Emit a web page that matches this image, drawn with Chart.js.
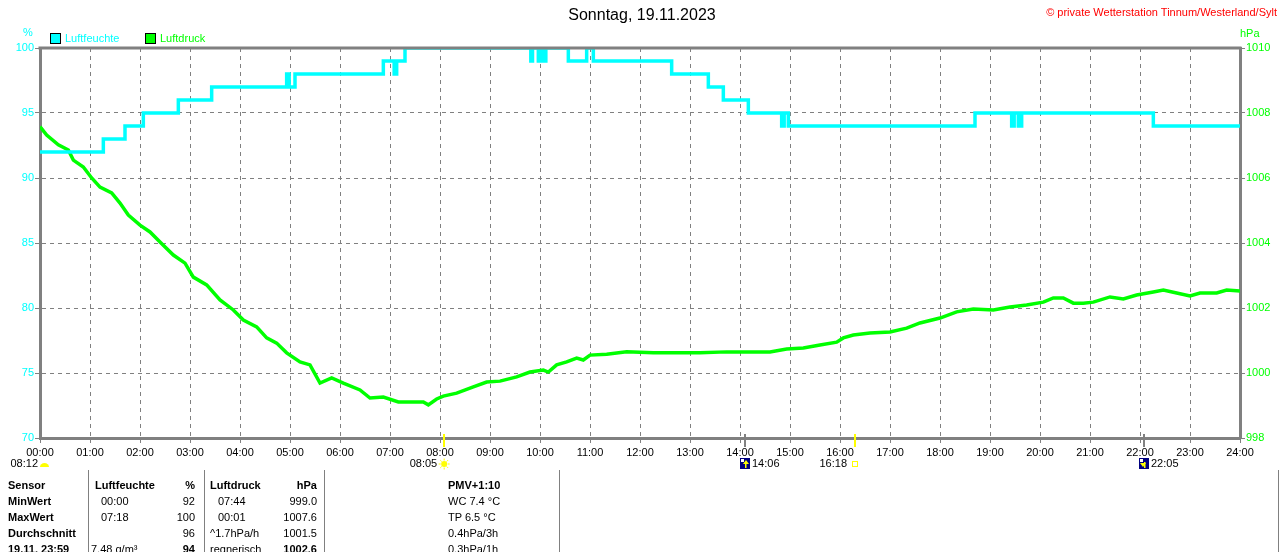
<!DOCTYPE html>
<html><head><meta charset="utf-8">
<script src="https://cdn.jsdelivr.net/npm/chart.js@4.4.0/dist/chart.umd.min.js"></script>
<style>
body{margin:0;background:#fff;width:1280px;height:552px;overflow:hidden;position:relative;font-family:"Liberation Sans",Arial,sans-serif;font-size:11px;color:#000;}
#wrap{position:absolute;left:0;top:0;width:1280px;height:552px;}
.t{position:absolute;white-space:nowrap;line-height:13px;height:13px;}
.r{text-align:right;}
.b{font-weight:bold;}
.sep{position:absolute;width:1px;background:#808080;top:470px;height:82px;}
.box{position:absolute;width:9px;height:9px;border:1px solid #000;}
</style></head><body>
<div id="wrap"><canvas id="c" width="1280" height="552"></canvas></div>
<script>
// ---- data ----
const xTickLabels = ['00:00','01:00','02:00','03:00','04:00','05:00','06:00','07:00','08:00','09:00','10:00','11:00','12:00','13:00','14:00','15:00','16:00','17:00','18:00','19:00','20:00','21:00','22:00','23:00','24:00'];
const humTicks = [70,75,80,85,90,95,100];
const pressTicks = [998,1000,1002,1004,1006,1008,1010];

// minutes after midnight
const humTimes = [0,76,102,124,166,206,296,299,306,412,425,428,438,589,591,598,600,604,607,634,656,664,758,802,820,850,890,893,898,1122,1166,1169,1174,1178,1336,1440];
const humValues = [92,93,94,95,96,97,98,97,98,99,98,99,100,99,100,99,100,99,100,99,100,99,98,97,96,95,94,95,94,95,94,95,94,95,94,94];

const pressTimes = [0,8,22,34,40,52,62,72,86,96,106,120,132,144,160,174,184,200,216,232,244,260,272,284,296,312,324,336,350,364,384,396,412,430,460,466,476,484,500,520,536,552,572,588,604,610,620,632,644,652,660,680,704,736,768,792,824,856,876,896,916,936,956,964,976,996,1020,1040,1056,1080,1100,1120,1144,1164,1184,1204,1216,1228,1240,1252,1264,1284,1300,1316,1336,1348,1364,1380,1392,1412,1424,1440];
const pressValues = [1007.58,1007.32,1007.02,1006.86,1006.55,1006.34,1006.0,1005.72,1005.54,1005.23,1004.86,1004.55,1004.34,1004.03,1003.63,1003.38,1002.95,1002.71,1002.25,1001.94,1001.63,1001.42,1001.08,1000.92,1000.62,1000.34,1000.25,999.69,999.85,999.69,999.48,999.23,999.26,999.11,999.11,999.02,999.2,999.29,999.38,999.57,999.72,999.75,999.88,1000.03,1000.09,1000.03,1000.25,1000.34,1000.46,1000.40,1000.55,1000.58,1000.65,1000.62,1000.62,1000.62,1000.65,1000.65,1000.65,1000.74,1000.77,1000.86,1000.95,1001.08,1001.17,1001.23,1001.26,1001.38,1001.54,1001.69,1001.88,1001.97,1001.94,1002.03,1002.09,1002.18,1002.31,1002.31,1002.15,1002.15,1002.18,1002.34,1002.28,1002.40,1002.49,1002.55,1002.46,1002.37,1002.46,1002.46,1002.55,1002.52];

const sunTimes = [485, 978];          // sunrise, sunset
const sunLabels = ['08:05', '16:18'];
const moonTimes = [846, 1325];        // moonrise, moonset
const moonLabels = ['14:06', '22:05'];
const dayLengthLabel = '08:12';

const seriesNames = ['Luftfeuchte', 'Luftdruck'];
const seriesColors = ['#00FFFF', '#00FF00'];

// ---- html texts ----
function addText(txt, x, yc, opts) {
  opts = opts || {};
  const d = document.createElement('div');
  d.className = 't' + (opts.b ? ' b' : '');
  d.textContent = txt;
  d.style.top = (yc - 6.5) + 'px';
  if (opts.right) { d.style.right = (1280 - x) + 'px'; d.style.textAlign = 'right'; }
  else if (opts.center) { d.style.left = (x - 200) + 'px'; d.style.width = '400px'; d.style.textAlign = 'center'; }
  else d.style.left = x + 'px';
  if (opts.color) d.style.color = opts.color;
  if (opts.size) { d.style.fontSize = opts.size + 'px'; d.style.lineHeight = (opts.size + 2) + 'px'; d.style.height = (opts.size + 2) + 'px'; d.style.top = (yc - (opts.size + 2) / 2) + 'px'; }
  document.body.appendChild(d);
}
addText('Sonntag, 19.11.2023', 642, 15, {center: true, size: 16});
addText('© private Wetterstation Tinnum/Westerland/Sylt', 1277, 12, {right: true, color: '#FF0000'});
addText('%', 23, 32, {color: seriesColors[0]});
addText('hPa', 1240, 33, {color: seriesColors[1]});
// legend
[[50, 65], [145, 160]].forEach((p, i) => {
  const b = document.createElement('div');
  b.className = 'box'; b.style.left = p[0] + 'px'; b.style.top = '33px'; b.style.background = seriesColors[i];
  document.body.appendChild(b);
  addText(seriesNames[i], p[1], 38, {color: seriesColors[i]});
});
// table
const rows = [485, 501, 517, 533, 549];
const colA = ['Sensor', 'MinWert', 'MaxWert', 'Durchschnitt', '19.11.  23:59'];
const colB = ['Luftfeuchte', '00:00', '07:18', '', '7.48 g/m³'];
const colC = ['%', '92', '100', '96', '94'];
const colD = ['Luftdruck', '07:44', '00:01', '^1.7hPa/h', 'regnerisch'];
const colE = ['hPa', '999.0', '1007.6', '1001.5', '1002.6'];
const colF = ['PMV+1:10', 'WC 7.4 °C', 'TP 6.5 °C', '0.4hPa/3h', '0.3hPa/1h'];
rows.forEach((y, i) => {
  addText(colA[i], 8, y, {b: true});
  addText(colB[i], i === 0 ? 95 : (i === 4 ? 91 : 101), y, {b: i === 0});
  addText(colC[i], 195, y, {right: true, b: i === 0 || i === 4});
  addText(colD[i], i === 0 ? 210 : (i === 1 || i === 2 ? 218 : 210), y, {b: i === 0});
  addText(colE[i], 317, y, {right: true, b: i === 0 || i === 4});
  addText(colF[i], 448, y, {b: i === 0});
});
[88, 204, 324, 559, 1278].forEach(x => {
  const s = document.createElement('div'); s.className = 'sep'; s.style.left = x + 'px'; document.body.appendChild(s);
});

// ---- chart ----
const extras = {
  id: 'extras',
  afterDraw(chart) {
    const ctx = chart.ctx, a = chart.chartArea, xs = chart.scales.x;
    ctx.save();
    // top frame line
    ctx.strokeStyle = '#808080'; ctx.lineWidth = 3;
    ctx.beginPath(); ctx.moveTo(a.left - 1.5, a.top); ctx.lineTo(a.right + 1.5, a.top); ctx.stroke();
    // sun / moon marks on the time axis
    ctx.lineWidth = 2;
    sunTimes.forEach(t => {
      const x = Math.round(xs.getPixelForValue(t));
      ctx.strokeStyle = '#FFFF00';
      ctx.beginPath(); ctx.moveTo(x, a.bottom - 4); ctx.lineTo(x, a.bottom + 9); ctx.stroke();
    });
    moonTimes.forEach(t => {
      const x = Math.round(xs.getPixelForValue(t));
      ctx.strokeStyle = '#808080';
      ctx.beginPath(); ctx.moveTo(x, a.bottom - 4); ctx.lineTo(x, a.bottom + 9); ctx.stroke();
    });
    ctx.font = '11px "Liberation Sans", Arial, sans-serif';
    ctx.fillStyle = '#000'; ctx.textBaseline = 'middle';
    const yRow = 464;
    // day length
    const x0 = xs.getPixelForValue(0);
    ctx.textAlign = 'right'; ctx.fillText(dayLengthLabel, x0 - 2, yRow);
    ctx.fillStyle = '#FFFF00';
    ctx.beginPath(); ctx.ellipse(x0 + 4.5, yRow + 3, 4.5, 4, 0, Math.PI, 2 * Math.PI); ctx.fill();
    // sunrise
    let xs1 = xs.getPixelForValue(sunTimes[0]);
    ctx.fillStyle = '#000'; ctx.textAlign = 'right'; ctx.fillText(sunLabels[0], xs1 - 7, yRow);
    ctx.fillStyle = '#FFFF00'; ctx.strokeStyle = '#FFFF00'; ctx.lineWidth = 1;
    ctx.beginPath(); ctx.arc(xs1, yRow, 3, 0, 2 * Math.PI); ctx.fill();
    for (let k = 0; k < 8; k++) {
      const an = k * Math.PI / 4;
      ctx.beginPath(); ctx.moveTo(xs1 + Math.cos(an) * 3.5, yRow + Math.sin(an) * 3.5);
      ctx.lineTo(xs1 + Math.cos(an) * 5.5, yRow + Math.sin(an) * 5.5); ctx.stroke();
    }
    // sunset
    let xs2 = xs.getPixelForValue(sunTimes[1]);
    ctx.fillStyle = '#000'; ctx.textAlign = 'right'; ctx.fillText(sunLabels[1], xs2 - 8, yRow);
    ctx.strokeStyle = '#FFFF00'; ctx.strokeRect(xs2 - 2.5, yRow - 2.5, 5, 5);
    // moon rise / set
    moonTimes.forEach((t, i) => {
      const x = Math.round(xs.getPixelForValue(t));
      ctx.fillStyle = '#000080'; ctx.fillRect(x - 5, yRow - 6, 10, 11);
      ctx.fillStyle = '#FFFFFF'; ctx.fillRect(x - 4, yRow - 5, 3, 3);
      ctx.fillStyle = '#FFFF00';
      ctx.beginPath();
      if (i === 0) { ctx.moveTo(x + 1, yRow - 4); ctx.lineTo(x + 4, yRow); ctx.lineTo(x - 2, yRow); }
      else { ctx.moveTo(x - 1, yRow + 3); ctx.lineTo(x + 2, yRow - 1); ctx.lineTo(x - 4, yRow - 1); }
      ctx.fill();
      ctx.fillRect(x, yRow - 2, 1.5, 6);
      ctx.fillStyle = '#000'; ctx.textAlign = 'left'; ctx.fillText(moonLabels[i], x + 7, yRow);
    });
    ctx.restore();
  }
};

const font = {family: '"Liberation Sans", Arial, sans-serif', size: 11};
new Chart(document.getElementById('c'), {
  type: 'line',
  data: {
    datasets: [
      {label: seriesNames[0], data: humTimes.map((t, i) => ({x: t, y: humValues[i]})), borderColor: seriesColors[0], borderWidth: 3.5, pointRadius: 0, stepped: true, yAxisID: 'y'},
      {label: seriesNames[1], data: pressTimes.map((t, i) => ({x: t, y: pressValues[i]})), borderColor: seriesColors[1], borderWidth: 3.5, pointRadius: 0, tension: 0, yAxisID: 'y1'}
    ]
  },
  options: {
    responsive: false, animation: false, events: [], devicePixelRatio: 1,
    layout: {padding: {top: 48, left: 0, right: 0, bottom: 0}},
    plugins: {legend: {display: false}, tooltip: {enabled: false}, title: {display: false}},
    scales: {
      x: {
        type: 'linear', min: 0, max: 1440,
        afterBuildTicks: s => { s.ticks = xTickLabels.map((l, i) => ({value: i * 60})); },
        afterFit: s => { s.height = 552 - 438; },
        ticks: {color: '#000', font: font, padding: 3, maxRotation: 0, autoSkip: false, callback: (v, i) => xTickLabels[i]},
        grid: {color: '#808080', lineWidth: 1, tickLength: 5, tickColor: '#808080', tickBorderDash: []},
        border: {color: '#808080', width: 3, dash: [4, 4]}
      },
      y: {
        position: 'left', min: 70, max: 100,
        afterBuildTicks: s => { s.ticks = humTicks.map(v => ({value: v})); },
        afterFit: s => { s.width = 40; },
        ticks: {color: seriesColors[0], font: font, padding: 1, callback: v => String(v)},
        grid: {color: '#808080', lineWidth: 1, tickLength: 5, tickColor: '#808080', tickBorderDash: []},
        border: {color: '#808080', width: 3, dash: [4, 4]}
      },
      y1: {
        position: 'right', min: 998, max: 1010,
        afterBuildTicks: s => { s.ticks = pressTicks.map(v => ({value: v})); },
        afterFit: s => { s.width = 40; },
        ticks: {color: seriesColors[1], font: font, padding: 1, callback: v => String(v)},
        grid: {drawOnChartArea: false, tickLength: 5, tickColor: '#808080', tickBorderDash: []},
        border: {color: '#808080', width: 3}
      }
    }
  },
  plugins: [extras]
});
</script>
</body></html>
